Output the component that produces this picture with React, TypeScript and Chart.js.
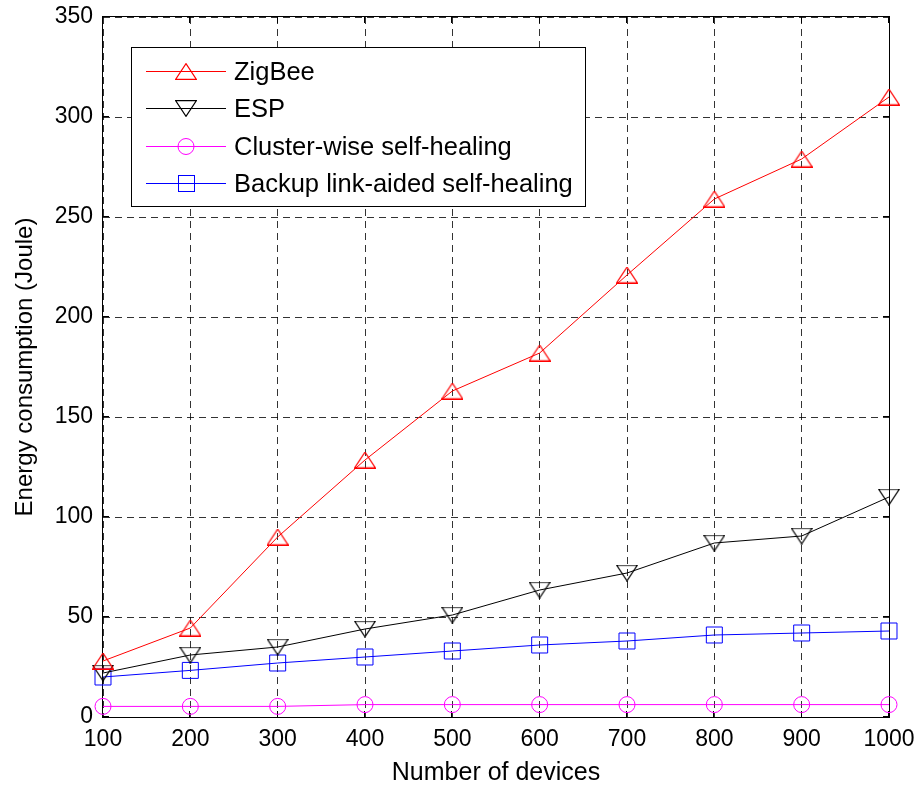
import React, { useEffect, useRef } from 'react';
import { Chart, registerables } from 'chart.js';

Chart.register(...registerables);

const FONT = '"Liberation Sans", Arial, Helvetica, sans-serif';

const devices = [100, 200, 300, 400, 500, 600, 700, 800, 900, 1000];
const zigbee = [28, 44.5, 90, 128.5, 163, 182, 221, 259, 279, 310];
const esp = [22, 31, 35, 44, 51, 63.5, 72, 87, 90.5, 110];
const clusterWise = [5.3, 5.3, 5.3, 6.2, 6.2, 6.2, 6.2, 6.2, 6.2, 6.2];
const backupLink = [20, 23.3, 27, 30, 33, 36, 38, 41, 42, 43];

const seriesLabels = ['ZigBee', 'ESP', 'Cluster-wise self-healing', 'Backup link-aided self-healing'];
const seriesColors = ['#ff0000', '#000000', '#ff00ff', '#0000ff'];
const xTicks = [100, 200, 300, 400, 500, 600, 700, 800, 900, 1000];
const yTicks = [0, 50, 100, 150, 200, 250, 300, 350];

function makeTriangle(color: string, down: boolean): HTMLCanvasElement {
  const c = document.createElement('canvas');
  c.width = 22;
  c.height = 17;
  const ctx = c.getContext('2d')!;
  ctx.strokeStyle = color;
  ctx.lineWidth = 1.15;
  ctx.beginPath();
  if (!down) {
    ctx.moveTo(11, 0.6);
    ctx.lineTo(21.4, 16.4);
    ctx.lineTo(0.6, 16.4);
  } else {
    ctx.moveTo(0.6, 0.6);
    ctx.lineTo(21.4, 0.6);
    ctx.lineTo(11, 16.4);
  }
  ctx.closePath();
  ctx.stroke();
  return c;
}

const framePlugin = {
  id: 'frame',
  beforeDatasetsDraw(chart: any) {
    const { ctx, chartArea } = chart;
    const { left, right, top, bottom } = chartArea;
    const xs = chart.scales.x;
    const ys = chart.scales.y;
    ctx.save();
    ctx.strokeStyle = '#000';
    ctx.lineWidth = 1;
    ctx.setLineDash([]);
    ctx.strokeRect(Math.round(left) - 0.5, Math.round(top) - 0.5, Math.round(right - left) + 1, Math.round(bottom - top) + 1);
    const tl = 6;
    ctx.beginPath();
    xTicks.forEach((v) => {
      const px = Math.round(xs.getPixelForValue(v)) - 0.5;
      ctx.moveTo(px, bottom);
      ctx.lineTo(px, bottom - tl);
      ctx.moveTo(px, top);
      ctx.lineTo(px, top + tl);
    });
    yTicks.forEach((v) => {
      const py = Math.round(ys.getPixelForValue(v)) - 0.5;
      ctx.moveTo(left, py);
      ctx.lineTo(left + tl, py);
      ctx.moveTo(right, py);
      ctx.lineTo(right - tl, py);
    });
    ctx.stroke();
    ctx.restore();
  },
};

const legendPlugin = {
  id: 'matlabLegend',
  afterDraw(chart: any) {
    const { ctx } = chart;
    const bx = 131.5, by = 47.5, bw = 454, bh = 159;
    ctx.save();
    ctx.setLineDash([]);
    ctx.fillStyle = '#fff';
    ctx.fillRect(bx, by, bw, bh);
    ctx.strokeStyle = '#000';
    ctx.lineWidth = 1;
    ctx.strokeRect(bx, by, bw, bh);
    const rowY = [70.5, 108, 145.5, 183];
    chart.data.datasets.forEach((ds: any, i: number) => {
      const y = Math.round(rowY[i]) + 0.5;
      ctx.strokeStyle = ds.borderColor;
      ctx.lineWidth = 1;
      ctx.beginPath();
      ctx.moveTo(146, y);
      ctx.lineTo(226, y);
      ctx.stroke();
      const cx = 186;
      const ps = ds.pointStyle;
      if (ps instanceof HTMLCanvasElement) {
        ctx.drawImage(ps, cx - 11, Math.round(y - 8.5));
      } else if (ps === 'circle') {
        ctx.beginPath();
        ctx.arc(cx, y, 8, 0, Math.PI * 2);
        ctx.stroke();
      } else if (ps === 'rect') {
        ctx.strokeRect(cx - 8 + 0.5, y - 8, 16, 16);
      }
      ctx.fillStyle = '#000';
      ctx.font = `25.5px ${FONT}`;
      ctx.textBaseline = 'middle';
      ctx.textAlign = 'left';
      ctx.fillText(ds.label, 234, y + 1);
    });
    ctx.restore();
  },
};

export default function App() {
  const ref = useRef<HTMLCanvasElement>(null);
  useEffect(() => {
    if (!ref.current) return;
    Chart.defaults.color = '#000';
    const triUp = makeTriangle(seriesColors[0], false);
    const triDown = makeTriangle(seriesColors[1], true);
    const mk = (v: number[]) => devices.map((d, i) => ({ x: d, y: v[i] }));
    const chart = new Chart(ref.current, {
      type: 'line',
      data: {
        datasets: [
          { label: seriesLabels[0], data: mk(zigbee), borderColor: seriesColors[0], borderWidth: 1, pointStyle: triUp as any, backgroundColor: 'transparent', clip: false as any },
          { label: seriesLabels[1], data: mk(esp), borderColor: seriesColors[1], borderWidth: 1, pointStyle: triDown as any, backgroundColor: 'transparent', clip: false as any },
          { label: seriesLabels[2], data: mk(clusterWise), borderColor: seriesColors[2], borderWidth: 1, pointStyle: 'circle', pointRadius: 8, pointBorderWidth: 1, pointBorderColor: seriesColors[2], pointBackgroundColor: 'transparent', backgroundColor: 'transparent', clip: false as any },
          { label: seriesLabels[3], data: mk(backupLink), borderColor: seriesColors[3], borderWidth: 1, pointStyle: 'rect', pointRadius: 11.3, pointBorderWidth: 1, pointBorderColor: seriesColors[3], pointBackgroundColor: 'transparent', backgroundColor: 'transparent', clip: false as any },
        ],
      },
      options: {
        responsive: false,
        animation: false,
        events: [],
        layout: { padding: { left: 0, right: 32, top: 17, bottom: 0 } },
        elements: { line: { tension: 0 } },
        plugins: { legend: { display: false }, tooltip: { enabled: false } },
        scales: {
          x: {
            type: 'linear',
            min: 100,
            max: 1000,
            afterBuildTicks: (s: any) => { s.ticks = xTicks.map((v) => ({ value: v })); },
            afterFit: (s: any) => { s.height = 72; s.paddingLeft = 0; s.paddingRight = 0; s.paddingTop = 0; s.paddingBottom = 0; },
            grid: { color: 'rgba(0,0,0,0.8)', lineWidth: 1, drawTicks: false },
            border: { display: false, dash: [7, 5] },
            ticks: { font: { family: FONT, size: 23 }, padding: 9, maxRotation: 0, color: '#000', callback: (v: any) => String(v) },
            title: { display: true, text: 'Number of devices', font: { family: FONT, size: 25 }, color: '#000', padding: { top: 0, bottom: 1 } },
          },
          y: {
            min: 0,
            max: 350,
            afterBuildTicks: (s: any) => { s.ticks = yTicks.map((v) => ({ value: v })); },
            afterFit: (s: any) => { s.width = 103; s.paddingLeft = 0; s.paddingRight = 0; s.paddingTop = 0; s.paddingBottom = 0; },
            grid: { color: 'rgba(0,0,0,0.8)', lineWidth: 1, drawTicks: false },
            border: { display: false, dash: [7, 5] },
            ticks: { font: { family: FONT, size: 23 }, padding: 10, color: '#000', callback: (v: any) => String(v) },
            title: { display: true, text: 'Energy consumption (Joule)', font: { family: FONT, size: 24 }, color: '#000', padding: { top: 10.6, bottom: 0 } },
          },
        },
      },
      plugins: [framePlugin, legendPlugin],
    });
    return () => chart.destroy();
  }, []);
  return (
    <div style={{ position: 'absolute', left: 0, top: 0, width: 921, height: 789, background: '#fff' }}>
      <canvas ref={ref} width={921} height={789} style={{ display: 'block' }} />
    </div>
  );
}
